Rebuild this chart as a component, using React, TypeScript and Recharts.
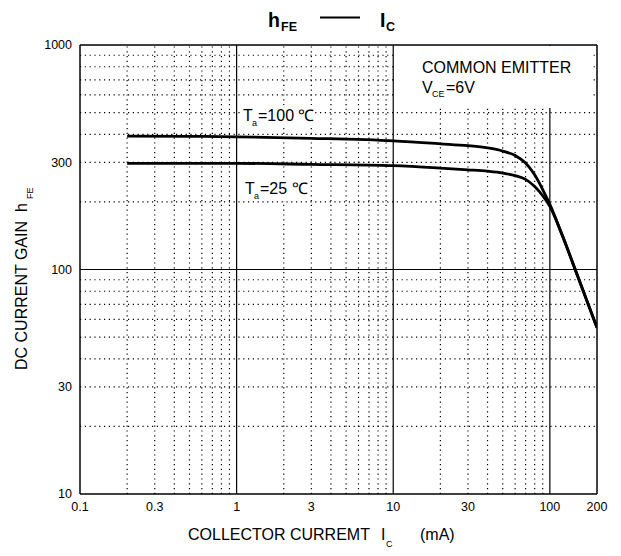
import { Line, LineChart, ReferenceLine, XAxis, YAxis } from 'recharts'

const FONT = '"Liberation Sans", Arial, sans-serif'

// collector current (mA) and hFE
const current = [0.2, 0.5, 1, 3, 10, 20, 30, 40, 50, 60, 70, 80, 90, 100, 120, 150, 200]
const gainTa100 = [393, 392, 390, 384, 374, 363, 356, 348, 337, 322, 298, 264, 227, 195, 142, 94, 55]
const gainTa25 = [297, 297, 297, 294, 290, 283, 278, 274, 269, 262, 252, 234, 213, 191, 142, 94, 55]

const xTicks = [0.1, 0.3, 1, 3, 10, 30, 100, 200]
const yTicks = [10, 30, 100, 300, 1000]

// grid
const xDotted = [0.2, 0.3, 0.4, 0.5, 0.6, 0.7, 0.8, 0.9, 2, 3, 4, 5, 6, 7, 8, 9, 20, 30, 40, 50, 60, 70, 80, 90]
const xSolid = [1, 10, 100, 200]
const yDotted = [20, 30, 40, 50, 60, 70, 80, 90, 200, 300, 400, 500, 600, 700, 800, 900]
const ySolid = [100, 1000]

const ta100 = current.map((c, i) => ({ current: c, gain: gainTa100[i] }))
const ta25 = current.map((c, i) => ({ current: c, gain: gainTa25[i] }))

const tickStyle = { fontSize: 12.5, fill: '#000', fontFamily: FONT }

function Annotations() {
  return (
    <svg
      width={621}
      height={556}
      style={{ position: 'absolute', left: 0, top: 0, pointerEvents: 'none' }}
      fontFamily={FONT}
      fill="#000"
    >
      {/* title */}
      <text x={268} y={27} fontSize={19.5} fontWeight="bold">h</text>
      <text x={281} y={31} fontSize={12.5} fontWeight="bold">FE</text>
      <line x1={320} x2={360} y1={17.5} y2={17.5} stroke="#000" strokeWidth={2} />
      <text x={380} y={27} fontSize={19.5} fontWeight="bold">I</text>
      <text x={386} y={31} fontSize={12.5} fontWeight="bold">C</text>

      {/* conditions box */}
      <rect x={396} y={46} width={195} height={62} fill="#fff" />
      <text x={422} y={73} fontSize={16}>COMMON EMITTER</text>
      <text x={422} y={93} fontSize={16}>V</text>
      <text x={432} y={97} fontSize={9}>CE</text>
      <text x={446} y={93} fontSize={16}>=6V</text>

      {/* curve labels */}
      <rect x={241} y={105} width={72} height={23} fill="#fff" />
      <text x={243} y={121} fontSize={16}>T</text>
      <text x={252} y={126} fontSize={9}>a</text>
      <text x={258} y={121} fontSize={16}>=100 ℃</text>

      <rect x={243} y={178} width={66} height={23} fill="#fff" />
      <text x={245} y={194} fontSize={16}>T</text>
      <text x={254} y={199} fontSize={9}>a</text>
      <text x={260} y={194} fontSize={16}>=25 ℃</text>

      {/* axis titles */}
      <text transform="translate(27,370) rotate(-90)" fontSize={16}>DC CURRENT GAIN</text>
      <text transform="translate(27,212) rotate(-90)" fontSize={16}>h</text>
      <text transform="translate(33,199) rotate(-90)" fontSize={9}>FE</text>

      <text x={188} y={540} fontSize={16}>COLLECTOR CURREMT</text>
      <text x={381} y={540} fontSize={16}>I</text>
      <text x={386} y={547} fontSize={9}>C</text>
      <text x={420} y={540} fontSize={16}>(mA)</text>
    </svg>
  )
}

export default function App() {
  return (
    <div style={{ position: 'absolute', left: 0, top: 0, width: 621, height: 556, background: '#fff' }}>
      <LineChart width={621} height={556} margin={{ top: 45, right: 24, bottom: 32, left: 0 }}>
        <XAxis
          type="number"
          dataKey="current"
          scale="log"
          domain={[0.1, 200]}
          ticks={xTicks}
          interval={0}
          allowDataOverflow
          tickLine={false}
          axisLine={{ stroke: '#000', strokeWidth: 1.5 }}
          tick={tickStyle}
          height={30}
        />
        <YAxis
          type="number"
          scale="log"
          domain={[10, 1000]}
          ticks={yTicks}
          interval={0}
          allowDataOverflow
          tickLine={false}
          axisLine={{ stroke: '#000', strokeWidth: 1.5 }}
          tick={tickStyle}
          width={80}
        />
        {xDotted.map((v) => (
          <ReferenceLine key={`xd${v}`} x={v} stroke="#000" strokeWidth={1.2} strokeDasharray="1.2 3.6" />
        ))}
        {yDotted.map((v) => (
          <ReferenceLine key={`yd${v}`} y={v} stroke="#000" strokeWidth={1.2} strokeDasharray="1.2 3.6" />
        ))}
        {xSolid.map((v) => (
          <ReferenceLine key={`xs${v}`} x={v} stroke="#000" strokeWidth={v === 200 ? 1.5 : 1.2} />
        ))}
        {ySolid.map((v) => (
          <ReferenceLine key={`ys${v}`} y={v} stroke="#000" strokeWidth={v === 1000 ? 1.5 : 1.2} />
        ))}
        <Line
          data={ta100}
          dataKey="gain"
          type="monotone"
          stroke="#000"
          strokeWidth={2.8}
          dot={false}
          isAnimationActive={false}
        />
        <Line
          data={ta25}
          dataKey="gain"
          type="monotone"
          stroke="#000"
          strokeWidth={2.8}
          dot={false}
          isAnimationActive={false}
        />
      </LineChart>
      <Annotations />
    </div>
  )
}
